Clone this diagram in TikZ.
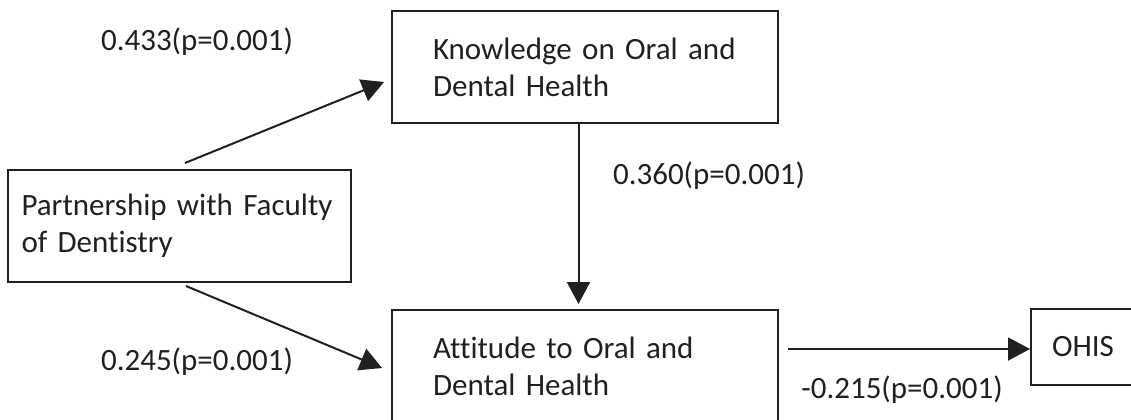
\documentclass[tikz,border=0pt]{standalone}
\usepackage{fontspec}
\setmainfont{Carlito}[Ligatures=NoCommon]
\usetikzlibrary{positioning,arrows.meta,calc}
\definecolor{ink}{HTML}{231F20}

\begin{document}
\begin{tikzpicture}[
    x=0.5pt, y=-0.5pt,
    >={Triangle[length=11pt,width=11.5pt]},
    every node/.style={font=\fontsize{15.5pt}{18.4pt}\selectfont, text=ink, align=left},
    box/.style={draw=ink, line width=1pt, minimum height=56pt, inner ysep=0pt},
    coef/.style={inner sep=0pt},
    link/.style={->, draw=ink, line width=1pt}
]
\useasboundingbox (0,0) rectangle (1131,419);

\node[box, text width=152pt, inner xsep=20.5pt] (know) at (585,67) {Knowledge on Oral and\\Dental Health};
\node[box, text width=152pt, inner xsep=20.5pt, below=92.5pt of know] (att) {Attitude to Oral and\\Dental Health};
\node[box, text width=158pt, inner xsep=6.75pt] (part) at (179.5,226) {Partnership with Faculty\\of Dentistry};
\node[box, minimum width=52pt, minimum height=38pt, anchor=north west] (ohis) at (1030,308) {OHIS};

\node[coef] (c433) at (197,42) {0.433(p=0.001)};
\node[coef] (c360) at (709,176) {0.360(p=0.001)};
\node[coef] (c245) at (197,362) {0.245(p=0.001)};
\node[coef] (c215) at (902,390) {-0.215(p=0.001)};

\draw[link] ([shift={(5.5,-6)}]part.north) -- ([shift={(-7,15)}]know.west);
\draw[link] ([shift={(6.5,3)}]part.south) -- ([shift={(-9,2)}]att.west);
\draw[link] ([shift={(-6.5,0)}]know.south) -- ([shift={(-6.5,-5)}]att.north);
\draw[link] ($(att.east |- ohis.west)+(9,2)$) -- ([shift={(0,2)}]ohis.west);

\end{tikzpicture}
\end{document}
